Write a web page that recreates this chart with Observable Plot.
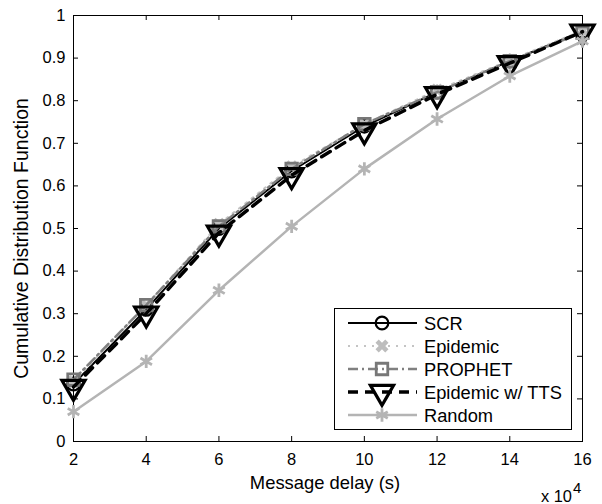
<!DOCTYPE html>
<html>
<head>
<meta charset="utf-8">
<script src="https://cdn.jsdelivr.net/npm/d3@7"></script>
<script src="https://cdn.jsdelivr.net/npm/@observablehq/plot@0.6"></script>
<style>
  html, body { margin: 0; padding: 0; background: #fff; }
  #chart { width: 602px; height: 504px; }
</style>
</head>
<body>
<div id="chart"></div>
<script>
// ---- data ----
const delays = [2, 4, 6, 8, 10, 12, 14, 16];           // x 10^4 s
const scr      = [0.135, 0.310, 0.500, 0.635, 0.740, 0.820, 0.893, 0.963];
const epidemic = [0.140, 0.320, 0.510, 0.645, 0.745, 0.825, 0.895, 0.965];
const prophet  = [0.145, 0.320, 0.505, 0.640, 0.745, 0.820, 0.893, 0.960];
const ttsEpi   = [0.128, 0.300, 0.490, 0.625, 0.730, 0.815, 0.888, 0.962];
const random   = [0.070, 0.188, 0.355, 0.505, 0.640, 0.757, 0.858, 0.940];
const seriesNames = ["SCR", "Epidemic", "PROPHET", "Epidemic w/ TTS", "Random"];
const seriesValues = [scr, epidemic, prophet, ttsEpi, random];
const xTicks = [2, 4, 6, 8, 10, 12, 14, 16];
const yTicks = [0, 0.1, 0.2, 0.3, 0.4, 0.5, 0.6, 0.7, 0.8, 0.9, 1];

// ---- styles ----
const styles = {
  "SCR":             {stroke: "#000000", width: 2,   dash: null,       symbol: "circle",   r: 6.3, mStroke: "#000", mFill: "none", mWidth: 2.2, rotate: 0},
  "Epidemic":        {stroke: "#c4c4c4", width: 2,   dash: "2,6",      symbol: "cross",    r: 5.8, mStroke: "none", mFill: "#bdbdbd", mWidth: 0, rotate: 45},
  "PROPHET":         {stroke: "#808080", width: 2.5, dash: "10,4,2,4", symbol: "square",   r: 6.5, mStroke: "#777777", mFill: "none", mWidth: 2.8, rotate: 0},
  "Epidemic w/ TTS": {stroke: "#000000", width: 3.5, dash: "10,7",     symbol: "triangle", r: 8.6, mStroke: "#000", mFill: "none", mWidth: 3.2, rotate: 180},
  "Random":          {stroke: "#b4b4b4", width: 2.5, dash: null,       symbol: "asterisk", r: 6.3, mStroke: "#b4b4b4", mFill: "none", mWidth: 2.8, rotate: 0}
};

const rows = [];
seriesNames.forEach((name, i) => {
  delays.forEach((x, j) => rows.push({series: name, x, y: seriesValues[i][j]}));
});

const W = 602, H = 504;
const mL = 73, mR = 20, mT = 15, mB = 63;
const plotH = H - mT - mB;
const plotW = W - mL - mR;
const tick = 5;
const font = "'Liberation Sans', Arial, sans-serif";

const marks = [
  Plot.frame({stroke: "black", strokeWidth: 1}),
  // inward ticks on all four sides
  Plot.tickX(xTicks, {x: d => d, insetTop: plotH - tick, stroke: "black"}),
  Plot.tickX(xTicks, {x: d => d, insetBottom: plotH - tick, stroke: "black"}),
  Plot.tickY(yTicks, {y: d => d, insetRight: plotW - tick, stroke: "black"}),
  Plot.tickY(yTicks, {y: d => d, insetLeft: plotW - tick, stroke: "black"}),
  Plot.axisX(xTicks, {tickSize: 0, tickPadding: 12, label: null, fontSize: 16.5}),
  Plot.axisY(yTicks, {tickSize: 0, tickPadding: 8, label: null, fontSize: 16.5,
    tickFormat: d => String(+d.toFixed(1))})
];
seriesNames.forEach(name => {
  const s = styles[name];
  const data = rows.filter(d => d.series === name);
  marks.push(Plot.line(data, {x: "x", y: "y", stroke: s.stroke, strokeWidth: s.width,
    strokeDasharray: s.dash, strokeLinejoin: "round"}));
  marks.push(Plot.dot(data, {x: "x", y: "y", symbol: s.symbol, r: s.r, rotate: s.rotate,
    stroke: s.mStroke, fill: s.mFill, strokeWidth: s.mWidth}));
});

const chart = Plot.plot({
  width: W, height: H,
  marginLeft: mL, marginRight: mR, marginTop: mT, marginBottom: mB,
  x: {domain: [2, 16]},
  y: {domain: [0, 1]},
  style: {fontFamily: font, fontSize: "16px", color: "black", background: "white"},
  marks
});
document.getElementById("chart").appendChild(chart);

// ---- extra text and legend ----
const svg = d3.select(chart);
svg.append("text").attr("x", 325).attr("y", 489)
  .attr("text-anchor", "middle").attr("font-family", font).attr("font-size", 18.4)
  .attr("fill", "black").text("Message delay (s)");
svg.append("text").attr("transform", `translate(28,238.5) rotate(-90)`)
  .attr("text-anchor", "middle").attr("font-family", font).attr("font-size", 19.5)
  .attr("fill", "black").text("Cumulative Distribution Function");
const exp = svg.append("text").attr("x", 541).attr("y", 501.5).attr("text-anchor", "start")
  .attr("font-family", font).attr("font-size", 16.4).attr("fill", "black");
exp.append("tspan").text("x 10");
exp.append("tspan").attr("dx", 1).attr("dy", -9).attr("font-size", 15).text("4");

const lg = svg.append("g");
lg.append("rect").attr("x", 334.5).attr("y", 308.5).attr("width", 237).attr("height", 121)
  .attr("fill", "white").attr("stroke", "black").attr("stroke-width", 1);
const symMap = {circle: d3.symbolCircle, cross: d3.symbolCross, square: d3.symbolSquare,
  triangle: d3.symbolTriangle, asterisk: d3.symbolAsterisk};
seriesNames.forEach((name, i) => {
  const s = styles[name];
  const y = 323 + i * 23;
  lg.append("line").attr("x1", 348).attr("x2", 417).attr("y1", y).attr("y2", y)
    .attr("stroke", s.stroke).attr("stroke-width", s.width)
    .attr("stroke-dasharray", s.dash);
  lg.append("path").attr("d", d3.symbol(symMap[s.symbol], s.r * s.r * Math.PI)())
    .attr("transform", `translate(382,${y}) rotate(${s.rotate})`)
    .attr("fill", s.mFill).attr("stroke", s.mStroke).attr("stroke-width", s.mWidth);
  lg.append("text").attr("x", 424).attr("y", y + 6.5).attr("text-anchor", "start")
    .attr("font-family", font).attr("font-size", 18.3).attr("fill", "black").text(name);
});
</script>
</body>
</html>
